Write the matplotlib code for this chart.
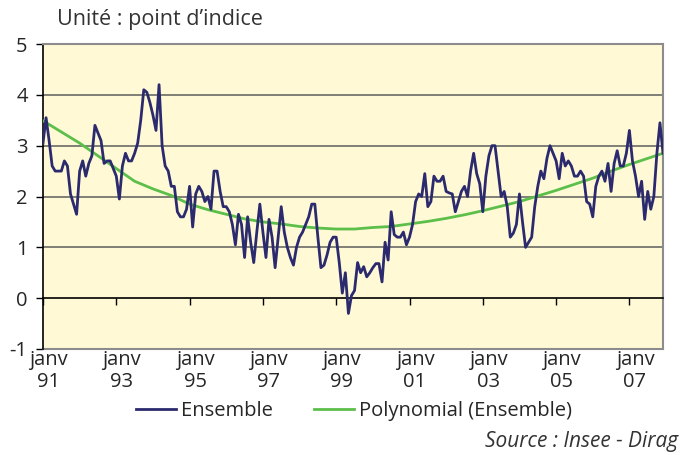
import matplotlib.pyplot as plt
import matplotlib.transforms as mtransforms
import numpy as np

# Monthly values, janv 1991 -> dec 2007 (point d'indice)
ensemble = [
    3.05, 3.55, 3.10, 2.60, 2.50, 2.50, 2.50, 2.70, 2.60, 2.05, 1.85, 1.65,  # 1991
    2.50, 2.70, 2.40, 2.65, 2.80, 3.40, 3.25, 3.10, 2.65, 2.70, 2.70, 2.55,  # 1992
    2.40, 1.95, 2.60, 2.85, 2.70, 2.70, 2.85, 3.05, 3.50, 4.10, 4.05, 3.85,  # 1993
    3.60, 3.30, 4.20, 3.00, 2.60, 2.50, 2.20, 2.20, 1.70, 1.60, 1.60, 1.75,  # 1994
    2.20, 1.40, 2.05, 2.20, 2.10, 1.90, 2.00, 1.75, 2.50, 2.50, 2.10, 1.80,  # 1995
    1.80, 1.70, 1.45, 1.05, 1.65, 1.45, 0.80, 1.60, 1.10, 0.70, 1.30, 1.85,  # 1996
    1.30, 0.80, 1.55, 1.20, 0.60, 1.20, 1.80, 1.30, 1.00, 0.80, 0.65, 1.00,  # 1997
    1.20, 1.30, 1.45, 1.60, 1.85, 1.85, 1.20, 0.60, 0.65, 0.85, 1.10, 1.20,  # 1998
    1.20, 0.70, 0.10, 0.50, -0.30, 0.05, 0.15, 0.70, 0.50, 0.62, 0.42, 0.50,  # 1999
    0.60, 0.68, 0.68, 0.32, 1.10, 0.75, 1.70, 1.25, 1.20, 1.20, 1.30, 1.05,  # 2000
    1.20, 1.45, 1.90, 2.05, 2.00, 2.45, 1.80, 1.90, 2.40, 2.30, 2.30, 2.40,  # 2001
    2.10, 2.07, 2.05, 1.70, 1.90, 2.10, 2.20, 2.00, 2.50, 2.85, 2.45, 2.25,  # 2002
    1.70, 2.40, 2.80, 3.00, 3.00, 2.50, 2.00, 2.10, 1.80, 1.20, 1.28, 1.45,  # 2003
    2.05, 1.50, 1.00, 1.10, 1.20, 1.80, 2.20, 2.50, 2.35, 2.75, 3.00, 2.85,  # 2004
    2.70, 2.35, 2.85, 2.60, 2.70, 2.60, 2.40, 2.40, 2.50, 2.40, 1.90, 1.85,  # 2005
    1.60, 2.20, 2.40, 2.50, 2.30, 2.65, 2.10, 2.65, 2.90, 2.60, 2.60, 2.85,  # 2006
    3.30, 2.70, 2.40, 2.00, 2.30, 1.55, 2.10, 1.75, 2.00, 2.85, 3.45, 2.85,  # 2007
]

# polynomial trend (every 6 months)
trend_months = [0, 6, 12, 18, 24, 30, 36, 42, 48, 54, 60, 66, 72, 78, 84, 90,
                96, 102, 108, 114, 120, 126, 132, 138, 144, 150, 156, 162, 168,
                174, 180, 186, 192, 198, 203]
trend_values = [3.49, 3.27, 3.05, 2.80, 2.55, 2.30, 2.15, 2.02, 1.85, 1.74,
                1.65, 1.56, 1.50, 1.46, 1.41, 1.38, 1.36, 1.36, 1.39, 1.41,
                1.46, 1.51, 1.57, 1.64, 1.72, 1.81, 1.90, 2.01, 2.12, 2.24,
                2.36, 2.50, 2.63, 2.75, 2.85]

year_labels = ['91', '93', '95', '97', '99', '01', '03', '05', '07']
label_months = [0, 24, 48, 72, 96, 120, 144, 168, 192]
y_ticks = [-1, 0, 1, 2, 3, 4, 5]

FONT = 'Open Sans'
NAVY = '#2b2a6e'
GREEN = '#5cbf4a'
GRID = '#6b6b66'
TXT = '#262626'

plt.rcParams['font.family'] = [FONT, 'DejaVu Sans']

fig = plt.figure(figsize=(6.82, 4.55), dpi=100)
ax = fig.add_axes([43/682, 1 - 349/455, 620/682, 305/455])
ax.set_facecolor('#fff9d6')

months = np.arange(len(ensemble))
ax.plot(months, ensemble, color=NAVY, lw=2.0, zorder=4, label='Ensemble')
ax.plot(trend_months, trend_values, color=GREEN, lw=2.0, zorder=3,
        label='Polynomial (Ensemble)')

ax.set_xlim(0, len(ensemble) - 1)
ax.set_ylim(-1, 5)

# grid lines
for v in [1, 2, 3, 4]:
    ax.axhline(v, color=GRID, lw=1.2, zorder=1)

# frame: grey border, black value axis, category axis crossing at 0
for s in ['top', 'right']:
    ax.spines[s].set_color('#8c8c8c')
    ax.spines[s].set_linewidth(1.5)
ax.spines['left'].set_color('black')
ax.spines['left'].set_linewidth(1.2)
ax.spines['bottom'].set_position(('data', 0))
ax.spines['bottom'].set_color('black')
ax.spines['bottom'].set_linewidth(1.2)
ax.axhline(-1, color='#8c8c8c', lw=1.5, clip_on=False, zorder=2)

ax.set_yticks(y_ticks)
ax.set_yticklabels([str(v) for v in y_ticks], fontsize=14.5, color=TXT)
ax.tick_params(axis='y', direction='out', length=5, width=1, pad=6)

ax.set_xticks(label_months)
ax.set_xticklabels([])
ax.tick_params(axis='x', direction='out', length=5, width=1)

# category labels under the plot area
trans = mtransforms.blended_transform_factory(ax.transData, ax.transAxes)
for m, yr in zip(label_months, year_labels):
    ax.text(m + 1.8, -0.003, 'janv\n' + yr, transform=trans, ha='center',
            va='top', fontsize=14.5, color=TXT, linespacing=1.12)

fig.text(57/682, 1 - 20/455, 'Unité : point d\u2019indice', fontsize=15.5,
         color='#333333', va='center', ha='left')

leg = fig.legend(loc='center', bbox_to_anchor=(354/682, 1 - 411/455), ncol=2,
                 frameon=False, fontsize=14.5, handlelength=2.0,
                 columnspacing=2.0, handletextpad=0.25)
for t in leg.get_texts():
    t.set_color(TXT)

fig.text(678/682, 1 - 442/455, 'Source : Insee - Dirag', fontsize=15,
         style='italic', color='#333333', ha='right', va='center')

fig.savefig('out.png', dpi=100)
